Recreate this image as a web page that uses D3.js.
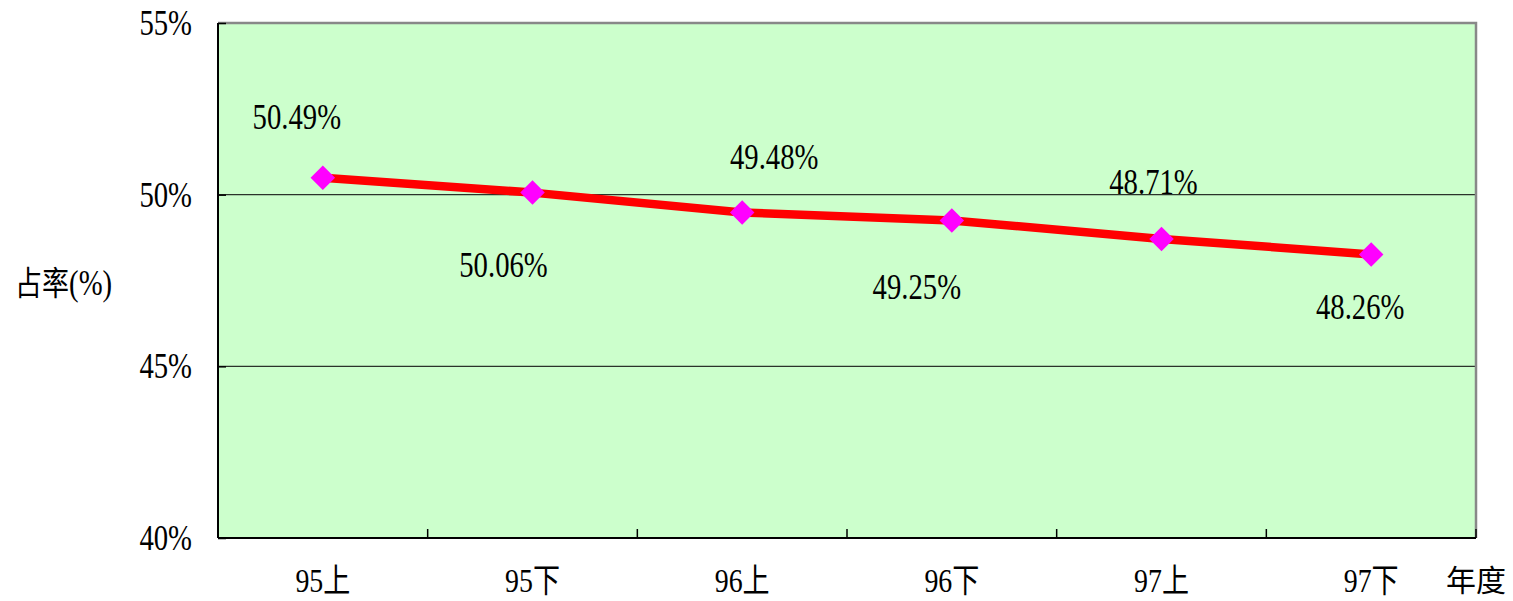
<!DOCTYPE html>
<html>
<head>
<meta charset="utf-8">
<script src="https://cdn.jsdelivr.net/npm/d3@7"></script>
<style>
  html, body { margin: 0; padding: 0; background: #fff; }
  svg { display: block; }
</style>
</head>
<body>
<svg id="chart" width="1513" height="601"></svg>
<script>
// Data
const periods = ["95上", "95下", "96上", "96下", "97上", "97下"];
const shares = [50.49, 50.06, 49.48, 49.25, 48.71, 48.26];
const yTicks = [40, 45, 50, 55];
const yTitle = ["占率", "(%)"];
const xTitle = "年度";
// Placement of each value label relative to its point (dx, dy in px)
const labelOffsets = [[-26, -49], [-29, 84], [32, -44], [-35, 79], [-8, -45], [-11, 65]];

const svg = d3.select("#chart");
const margin = { left: 218, top: 23, right: 1476, bottom: 538 };

const x = d3.scaleBand().domain(periods).range([margin.left, margin.right]);
const y = d3.scaleLinear().domain([40, 55]).range([margin.bottom, margin.top]);

const serif = "'Liberation Serif', 'Times New Roman', serif";
const cjk = "'Noto Sans CJK TC', 'Noto Sans CJK SC', sans-serif";
const squeeze = 0.82;

// Text helper: narrow serif digits, optional CJK part
function label(parent, px, py, parts, anchor, size) {
  const g = parent.append("g").attr("transform", `translate(${px},${py})`);
  const t = g.append("text")
    .attr("transform", `scale(${squeeze},1)`)
    .attr("text-anchor", anchor || "middle")
    .attr("fill", "#000");
  parts.forEach(([str, isCjk]) => {
    t.append("tspan")
      .attr("font-family", isCjk ? cjk : serif)
      .attr("font-size", isCjk ? 33 : (size || 35))
      .text(str);
  });
  return g;
}
function split(s) {
  const m = s.match(/^([0-9.]*)(.*)$/);
  const out = [];
  if (m[1]) out.push([m[1], false]);
  if (m[2]) out.push([m[2], true]);
  return out;
}

// Plot background
svg.append("rect")
  .attr("x", margin.left).attr("y", margin.top)
  .attr("width", margin.right - margin.left)
  .attr("height", margin.bottom - margin.top)
  .attr("fill", "#ccffcc");

// Gridlines
svg.append("g").selectAll("line")
  .data(yTicks.filter(d => d > 40 && d < 55))
  .join("line")
  .attr("x1", margin.left).attr("x2", margin.right)
  .attr("y1", d => y(d)).attr("y2", d => y(d))
  .attr("stroke", "#2a332a").attr("stroke-width", 1.2);

// Top and right frame
svg.append("path")
  .attr("d", `M${margin.left},${margin.top}H${margin.right}V${margin.bottom}`)
  .attr("fill", "none").attr("stroke", "#888").attr("stroke-width", 2.5);

// Y axis
const yAxis = svg.append("g").attr("transform", `translate(${margin.left},0)`)
  .call(d3.axisRight(y).tickValues(yTicks).tickSize(8).tickFormat(""));
yAxis.select(".domain").attr("stroke", "#000").attr("stroke-width", 2).attr("d", `M0,${margin.top}V${margin.bottom}`);
yAxis.selectAll(".tick line").attr("stroke", "#000").attr("stroke-width", 1.5);

yTicks.forEach(v => label(svg, margin.left - 26, y(v) + 12, [[v + "%", false]], "end"));

// X axis with inward ticks at band boundaries
const xAxis = svg.append("g").attr("transform", `translate(0,${margin.bottom})`);
xAxis.append("line")
  .attr("x1", margin.left).attr("x2", margin.right)
  .attr("stroke", "#000").attr("stroke-width", 2);
const bounds = periods.map(p => x(p) + x.bandwidth());
xAxis.selectAll("line.tk").data(bounds).join("line").attr("class", "tk")
  .attr("x1", d => d).attr("x2", d => d)
  .attr("y1", 0).attr("y2", -9)
  .attr("stroke", "#000").attr("stroke-width", 1.5);

periods.forEach(p => label(svg, x(p) + x.bandwidth() / 2, 592, split(p), "middle", 34));

// Axis titles
svg.append("text")
  .attr("x", 1446).attr("y", 591)
  .attr("font-family", cjk).attr("font-size", 30)
  .attr("fill", "#000").text(xTitle);
label(svg, 15, 295, [[yTitle[0], true], [yTitle[1], false]], "start");

// Series line
const cx = p => x(p) + x.bandwidth() / 2;
const line = d3.line().x((d, i) => cx(periods[i])).y(d => y(d));
svg.append("path")
  .datum(shares)
  .attr("d", line)
  .attr("fill", "none")
  .attr("stroke", "#ff0000")
  .attr("stroke-width", 8.5)
  .attr("stroke-linejoin", "round");

// Diamond markers
const diamond = d3.symbol().type(d3.symbolSquare).size(300);
svg.append("g").selectAll("path")
  .data(shares)
  .join("path")
  .attr("d", diamond)
  .attr("transform", (d, i) => `translate(${cx(periods[i])},${y(d)}) rotate(45)`)
  .attr("fill", "#ff00ff");

// Value labels
shares.forEach((v, i) => {
  const [dx, dy] = labelOffsets[i];
  label(svg, cx(periods[i]) + dx, y(v) + dy, [[v.toFixed(2) + "%", false]]);
});
</script>
</body>
</html>
